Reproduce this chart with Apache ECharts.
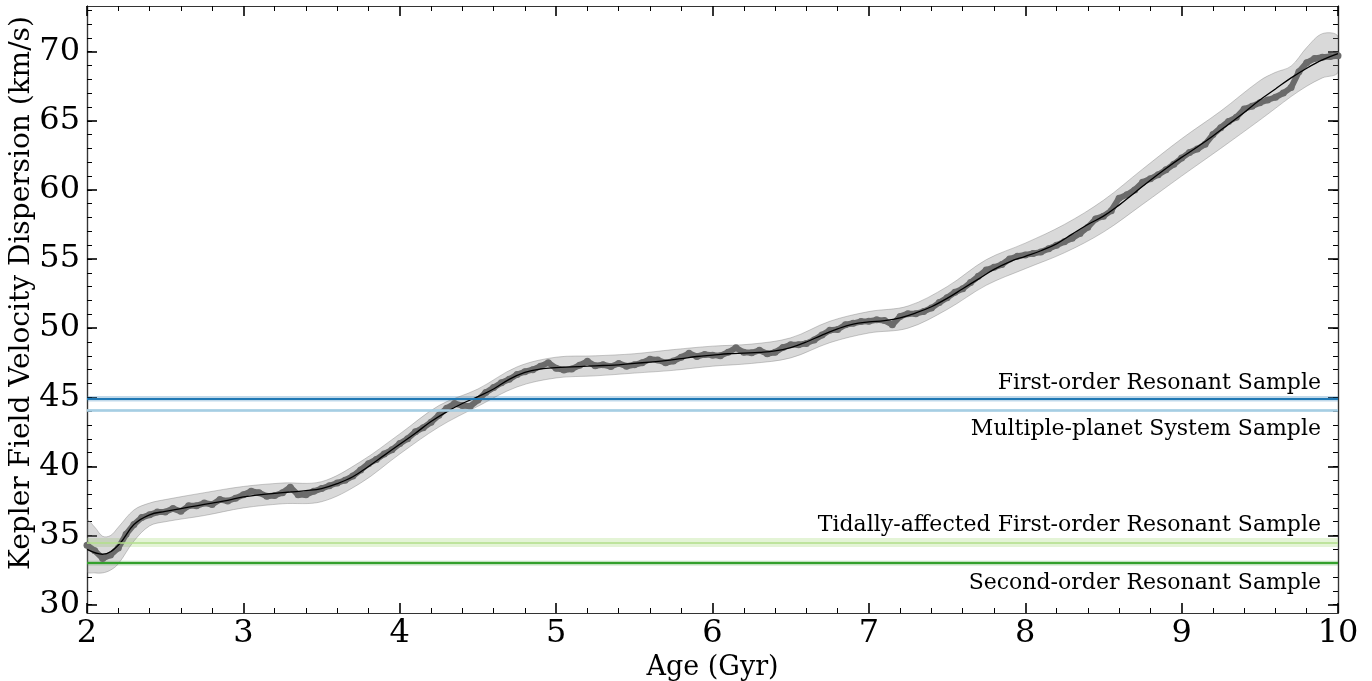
<!DOCTYPE html>
<html><head><meta charset="utf-8">
<script src="https://cdn.jsdelivr.net/npm/echarts@6/dist/echarts.min.js"></script>
<style>html,body{margin:0;padding:0;background:#fff}#c{width:1372px;height:681px}</style>
</head><body><div id="c"></div>
<script>
// ---- data ----
// smooth fit, ages 2.0..10.0 step 0.1
const lineAgeStart = 2.0, lineAgeStep = 0.1;
const lineVel = [
 34.0,33.65,34.3,35.8,36.5,36.75,36.95,37.15,37.35,37.55,
 37.8,37.95,38.05,38.15,38.25,38.4,38.75,39.25,40.0,40.8,
 41.6,42.4,43.25,43.95,44.55,45.05,45.6,46.3,46.8,47.05,
 47.15,47.2,47.25,47.3,47.35,47.45,47.55,47.65,47.8,47.95,
 48.05,48.15,48.2,48.25,48.35,48.6,49.0,49.5,49.95,50.3,
 50.45,50.55,50.75,51.1,51.55,52.15,52.85,53.55,54.25,54.8,
 55.2,55.6,56.1,56.8,57.5,58.1,58.9,59.8,60.7,61.55,
 62.35,63.1,63.9,64.75,65.6,66.5,67.3,68.1,68.8,69.4,
 69.85];
// running-window points, ages 2.00..10.00 step 0.05
const ptAgeStart = 2.0, ptAgeStep = 0.05;
const ptVel = [
 34.3,33.9,33.35,33.6,34.1,35.1,35.8,36.3,36.5,36.7,36.7,36.95,36.75,37.15,37.15,37.35,37.25,37.6,37.5,37.7,
 37.95,38.2,38.1,37.85,37.9,38.1,38.5,37.95,37.95,38.2,38.4,38.6,38.8,39.0,39.3,39.75,40.2,40.5,40.9,41.2,
 41.65,42.0,42.5,42.8,43.2,43.7,44.2,44.55,44.4,44.35,44.8,45.35,45.7,46.05,46.3,46.65,46.85,47.0,47.25,47.5,
 47.1,46.98,47.05,47.32,47.6,47.28,47.35,47.23,47.45,47.25,47.35,47.5,47.75,47.7,47.5,47.62,47.9,48.18,47.95,48.1,
 48.05,48.0,48.25,48.58,48.25,48.22,48.4,48.15,48.25,48.6,48.8,48.8,48.9,49.15,49.5,49.85,49.9,50.25,50.35,50.48,
 50.5,50.6,50.55,50.25,50.85,51.05,51.05,51.2,51.45,51.85,52.2,52.6,52.85,53.3,53.75,54.2,54.4,54.6,55.0,55.2,
 55.3,55.4,55.5,55.75,56.0,56.25,56.5,56.85,57.3,57.9,58.1,58.5,59.4,59.65,60.0,60.55,60.8,61.1,61.45,61.85,
 62.3,62.7,62.95,63.3,64.0,64.5,64.95,65.25,65.85,66.05,66.3,66.5,66.7,67.0,67.4,68.55,69.2,69.5,69.6,69.65,
 69.7];
// uncertainty band
const bandAge  = [2.0,2.05,2.1,2.15,2.2,2.3,2.4,2.5,2.75,3.0,3.25,3.5,3.75,4.0,4.25,4.5,4.75,5.0,5.25,5.5,5.75,6.0,6.25,6.5,6.75,7.0,7.25,7.5,7.75,8.0,8.25,8.5,8.75,9.0,9.25,9.5,9.6,9.7,9.8,9.9,10.0];
const bandLow  = [32.4,32.3,32.3,32.5,32.95,34.6,35.7,36.0,36.45,37.0,37.3,37.45,38.8,40.9,42.85,44.35,45.75,46.4,46.55,46.75,46.95,47.25,47.45,47.85,48.95,49.65,50.0,51.35,53.1,54.3,55.45,56.95,58.95,61.0,63.0,65.05,65.9,66.75,67.5,68.1,68.5];
const bandHigh = [36.1,35.6,34.95,35.0,35.6,36.85,37.35,37.6,38.1,38.55,38.8,38.9,40.35,42.35,44.4,45.6,47.2,47.9,48.0,48.15,48.45,48.7,48.85,49.3,50.5,51.2,51.6,53.0,54.95,56.15,57.5,59.25,61.5,63.7,65.7,67.9,68.5,68.95,70.3,71.3,71.1];
// reference samples
const refNames = ['First-order Resonant Sample','Multiple-planet System Sample','Tidally-affected First-order Resonant Sample','Second-order Resonant Sample'];
const refValues = [44.9, 44.05, 34.5, 33.0];
const refHalfWidth = [0.2, 0.1, 0.33, 0.17];
// ticks
const xMin = 2, xMax = 10, xStep = 1;
const yMin = 29.4, yMax = 73.3;
const yMajor = [30,35,40,45,50,55,60,65,70];
const yMinor = [30,31,32,33,34,35,36,37,38,39,40,41,42,43,44,45,46,47,48,49,50,51,52,53,54,55,56,57,58,59,60,61,62,63,64,65,66,67,68,69,70,71,72,73];

// ---- build ----
const r2 = v => Math.round(v*100)/100;
const lineData = lineVel.map((v,i)=>[r2(lineAgeStart+lineAgeStep*i), v]);
const ptData = ptVel.map((v,i)=>[r2(ptAgeStart+ptAgeStep*i), v]);
const bandData = bandAge.map((a,i)=>[a, bandLow[i], bandHigh[i]]);

const FONT = 'DejaVu Serif';
const refStyle = [
  {line:'#1f78b4', w:1.8, area:'rgba(31,120,180,0.28)', pos:'insideEndTop', d:4},
  {line:'#a6cee3', w:2.5, area:'rgba(166,206,227,0.4)', pos:'insideEndBottom', d:8},
  {line:'#b2df8a', w:1.6, area:'rgba(178,223,138,0.35)', pos:'insideEndTop', d:6},
  {line:'#33a02c', w:2,   area:'rgba(51,160,44,0.3)', pos:'insideEndBottom', d:9}
];

const chart = echarts.init(document.getElementById('c'), null, {renderer:'canvas'});
const tickX = (show)=>({
  type:'value', min:xMin, max:xMax, interval:xStep,
  axisLine:{show:true, lineStyle:{color:'#333', width:1.2}},
  axisTick:{show:true, inside:true, length:10, lineStyle:{color:'#000', width:1.6}},
  minorTick:{show:true, splitNumber:5, length:5, lineStyle:{color:'#000', width:1}},
  splitLine:{show:false}, minorSplitLine:{show:false},
  axisLabel:{show:show, fontFamily:FONT, fontSize:32, color:'#000', margin:5}
});
const yAx = (pos, vals, len, w, showLab)=>({
  type:'value', min:yMin, max:yMax, position:pos,
  axisLine:{show:true, lineStyle:{color:'#333', width:1.2}},
  axisTick:{show:true, inside:true, length:len, customValues:vals, lineStyle:{color:'#000', width:w}},
  splitLine:{show:false},
  axisLabel:{show:showLab, customValues:vals, fontFamily:FONT, fontSize:32, color:'#000', margin:7}
});

const option = {
  animation:false,
  backgroundColor:'#fff',
  grid:{left:87, right:34, top:6, bottom:68, containLabel:false, outerBoundsMode:'none'},
  xAxis:[
    Object.assign(tickX(true), {position:'bottom', name:'Age (Gyr)', nameLocation:'middle', nameGap:40,
      nameTextStyle:{fontFamily:FONT, fontSize:27, color:'#000'}}),
    Object.assign(tickX(false), {position:'top'})
  ],
  yAxis:[
    yAx('left', yMajor, 10, 1.6, true),
    yAx('right', yMajor, 10, 1.6, false),
    yAx('left', yMinor, 5, 1, false),
    yAx('right', yMinor, 5, 1, false)
  ],
  graphic:[{
    type:'text', x:22, y:293, rotation:Math.PI/2,
    style:{text:'Kepler Field Velocity Dispersion (km/s)', font:'28px "DejaVu Serif"', fill:'#000', textAlign:'center', textVerticalAlign:'middle'},
    z:100
  }],
  series:[
    {
      name:'refs', type:'line', data:[], z:1, silent:true,
      markArea:{silent:true, data: refValues.map((v,i)=>[
        {yAxis:v-refHalfWidth[i], itemStyle:{color:refStyle[i].area}}, {yAxis:v+refHalfWidth[i]}])},
      markLine:{silent:true, symbol:['none','none'], animation:false,
        data: refValues.map((v,i)=>({yAxis:v,
          lineStyle:{color:refStyle[i].line, width:refStyle[i].w, type:'solid'},
          label:{show:true, formatter:refNames[i], position:refStyle[i].pos, distance:[17, refStyle[i].d],
            fontFamily:FONT, fontSize:22, color:'#000'}}))}
    },
    {name:'band', type:'custom', z:2, silent:true, data:bandData, encode:{x:0, y:[1,2]},
      renderItem:(params, api)=>{
        if (params.dataIndex !== 0) return null;
        const top = [], bot = [];
        for (let i = 0; i < bandData.length; i++) {
          top.push(api.coord([bandData[i][0], bandData[i][2]]));
          bot.push(api.coord([bandData[i][0], bandData[i][1]]));
        }
        const cs = params.coordSys;
        const style = {fill:'rgba(128,128,128,0.3)', stroke:'rgba(110,110,110,0.35)', lineWidth:1};
        return {type:'group', children:[
          {type:'polygon', shape:{points: top.concat(bot.reverse()), smooth:0.35}, style:style}
        ], clipPath:{type:'rect', shape:{x:cs.x, y:cs.y, width:cs.width, height:cs.height}}};
      }},
    {name:'points', type:'line', data:ptData, z:3, symbol:'circle', symbolSize:7, showSymbol:true,
      itemStyle:{color:'#6b6b6b'}, lineStyle:{color:'#6b6b6b', width:6}},
    {name:'fit', type:'line', data:lineData, z:4, smooth:0.4, symbol:'none',
      lineStyle:{color:'#000', width:1.3}}
  ]
};
chart.setOption(option);
</script>
</body></html>
